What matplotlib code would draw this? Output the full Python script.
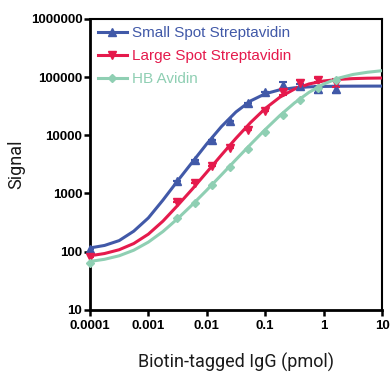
import matplotlib
matplotlib.use("Agg")
import matplotlib.pyplot as plt
import numpy as np

# dilution series (pmol) and measured signal
conc = [0.0001, 0.003125, 0.00625, 0.0125, 0.025, 0.05, 0.1, 0.2, 0.4, 0.8, 1.6]
small_spot = [112, 1650, 3780, 8340, 17700, 36000, 55700, 72000, 70000, 62000, 62000]
small_err = [0, 0, 0, 0, 0, 0, 0, 9000, 6000, 8000, 8000]
large_spot = [81, 717, 1520, 2980, 6080, 12400, 26300, 55700, 78000, 90000, 80000]
large_err = [0, 0, 0, 0, 0, 0, 0, 6000, 10000, 8000, 12000]
hb_avidin = [64, 381, 690, 1400, 2870, 5840, 11400, 22400, 40500, 65200, 89500]

# fitted curves, read at quarter decades from 1e-4 to 10
fit_x = [1e-4, 1.778e-4, 3.162e-4, 5.623e-4, 1e-3, 1.778e-3, 3.162e-3, 5.623e-3,
         1e-2, 1.778e-2, 3.162e-2, 5.623e-2, 0.1, 0.1778, 0.3162, 0.5623,
         1, 1.778, 3.162, 5.623, 10]
fit_small = [116, 128, 155, 225, 380, 770, 1640, 3422, 7120, 14060, 25160, 38940,
             51610, 60380, 65350, 67850, 69020, 69560, 69800, 69910, 69960]
fit_large = [85, 93, 108, 138, 200, 335, 621, 1183, 2318, 4567, 8875, 16540,
             28780, 44990, 62050, 76110, 85570, 91070, 94020, 95530, 96280]
fit_hb = [68, 74, 85, 106, 146, 222, 368, 638, 1142, 2082, 3821, 6968,
          12510, 21750, 35820, 54630, 75780, 95420, 110640, 120860, 128500]

labels = ["Small Spot Streptavidin", "Large Spot Streptavidin", "HB Avidin"]
colors = ["#4159a8", "#e51a4c", "#8fcfb3"]
markers = ["^", "v", "D"]

fig = plt.figure(figsize=(3.91, 3.77), dpi=100)
ax = fig.add_axes([0.230, 0.178, 0.747, 0.772])

series = [
    (small_spot, small_err, fit_small),
    (large_spot, large_err, fit_large),
    (hb_avidin, None, fit_hb),
]
for (ys, err, fit), col, mk in zip(series, colors, markers):
    ms = 5.5 if mk != "D" else 4.5
    if err is not None:
        ax.errorbar(conc, ys, yerr=err, fmt="none", ecolor=col, elinewidth=1.5,
                    capsize=3, capthick=1.5, zorder=3)
    ax.plot(conc, ys, linestyle="none", marker=mk, color=col,
            markersize=ms, zorder=4, clip_on=False)
    ax.plot(fit_x, fit, color=col, lw=2.2, zorder=3)

ax.set_xscale("log")
ax.set_yscale("log")
ax.set_xlim(1e-4, 10)
ax.set_ylim(10, 1e6)
ax.set_xticks([1e-4, 1e-3, 1e-2, 1e-1, 1, 10])
ax.set_xticklabels(["0.0001", "0.001", "0.01", "0.1", "1", "10"])
ax.set_yticks([10, 100, 1000, 10000, 100000, 1000000])
ax.set_yticklabels(["10", "100", "1000", "10000", "100000", "1000000"])
ax.minorticks_off()

for lab in ax.get_xticklabels() + ax.get_yticklabels():
    lab.set_fontfamily("Liberation Sans")
    lab.set_fontweight("bold")
    lab.set_fontsize(9.5)

ax.tick_params(axis="both", which="major", direction="out", length=4.5, width=1.8,
               color="black")
ax.tick_params(axis="x", pad=3)
ax.tick_params(axis="y", pad=1)
for s in ["left", "bottom"]:
    ax.spines[s].set_linewidth(2.0)
for s in ["top", "right"]:
    ax.spines[s].set_linewidth(1.5)

ax.set_ylabel("Signal", fontsize=13, family="Roboto", color="#1a1a1a",
              labelpad=4)
ax.set_xlabel("Biotin-tagged IgG (pmol)", fontsize=13, family="Roboto",
              color="#1a1a1a", labelpad=15)

# legend: line handles with a centred marker, text coloured like the series
leg_handles = []
for col, mk in zip(colors, markers):
    lh, = ax.plot([], [], color=col, lw=2.2, marker=mk,
                  markersize=5.5 if mk != "D" else 4.5)
    leg_handles.append(lh)
leg = ax.legend(leg_handles, labels, loc="upper left", frameon=False,
                bbox_to_anchor=(0.0, 1.0), borderaxespad=0.0, borderpad=0.5,
                handlelength=1.9, handletextpad=0.35, labelspacing=0.58,
                prop={"family": "Liberation Sans", "size": 11})
for txt, col in zip(leg.get_texts(), colors):
    txt.set_color(col)

fig.savefig("out.png", dpi=100)
